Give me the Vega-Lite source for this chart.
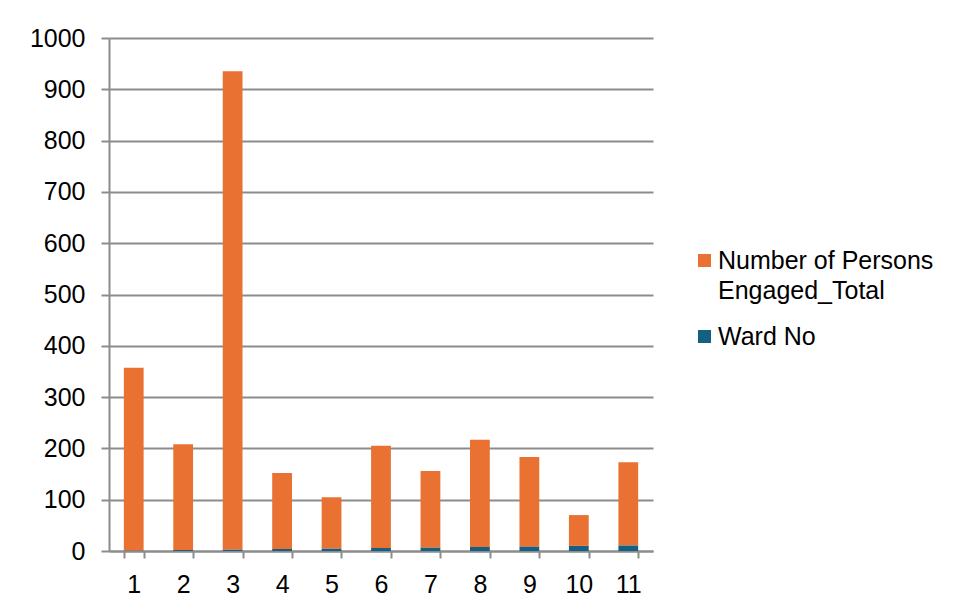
{
  "$schema": "https://vega.github.io/schema/vega-lite/v6.json",
  "autosize": {"type": "none"},
  "padding": {"left": 109, "top": 38, "right": 309, "bottom": 59},
  "width": 544,
  "height": 513,
  "background": "white",
  "data": {
    "values": [
      {"Ward": 1, "Series": "Ward No", "Value": 1},
      {"Ward": 1, "Series": "Number of Persons Engaged_Total", "Value": 356},
      {"Ward": 2, "Series": "Ward No", "Value": 2},
      {"Ward": 2, "Series": "Number of Persons Engaged_Total", "Value": 206},
      {"Ward": 3, "Series": "Ward No", "Value": 3},
      {"Ward": 3, "Series": "Number of Persons Engaged_Total", "Value": 932},
      {"Ward": 4, "Series": "Ward No", "Value": 4},
      {"Ward": 4, "Series": "Number of Persons Engaged_Total", "Value": 148},
      {"Ward": 5, "Series": "Ward No", "Value": 5},
      {"Ward": 5, "Series": "Number of Persons Engaged_Total", "Value": 100},
      {"Ward": 6, "Series": "Ward No", "Value": 6},
      {"Ward": 6, "Series": "Number of Persons Engaged_Total", "Value": 199},
      {"Ward": 7, "Series": "Ward No", "Value": 7},
      {"Ward": 7, "Series": "Number of Persons Engaged_Total", "Value": 149},
      {"Ward": 8, "Series": "Ward No", "Value": 8},
      {"Ward": 8, "Series": "Number of Persons Engaged_Total", "Value": 209},
      {"Ward": 9, "Series": "Ward No", "Value": 9},
      {"Ward": 9, "Series": "Number of Persons Engaged_Total", "Value": 174},
      {"Ward": 10, "Series": "Ward No", "Value": 10},
      {"Ward": 10, "Series": "Number of Persons Engaged_Total", "Value": 60},
      {"Ward": 11, "Series": "Ward No", "Value": 11},
      {"Ward": 11, "Series": "Number of Persons Engaged_Total", "Value": 162}
    ]
  },
  "mark": {"type": "bar"},
  "encoding": {
    "x": {
      "field": "Ward",
      "type": "ordinal",
      "title": null,
      "scale": {"paddingInner": 0.6, "paddingOuter": 0.3},
      "axis": {
        "labelAngle": 0,
        "tickBand": "extent",
        "tickSize": 7,
        "tickWidth": 2,
        "tickColor": "#8c8c8c",
        "domainColor": "#8c8c8c",
        "domainWidth": 2,
        "labelPadding": 14,
        "grid": false
      }
    },
    "y": {
      "field": "Value",
      "type": "quantitative",
      "aggregate": "sum",
      "stack": "zero",
      "title": null,
      "scale": {"domain": [0, 1000], "nice": false},
      "axis": {
        "values": [0, 100, 200, 300, 400, 500, 600, 700, 800, 900, 1000],
        "format": "d",
        "tickSize": 8,
        "tickWidth": 2,
        "tickColor": "#8c8c8c",
        "domainColor": "#8c8c8c",
        "domainWidth": 2,
        "gridColor": "#8c8c8c",
        "gridWidth": 2,
        "labelPadding": 16
      }
    },
    "color": {
      "field": "Series",
      "type": "nominal",
      "scale": {
        "domain": ["Number of Persons Engaged_Total", "Ward No"],
        "range": ["#E97132", "#156082"]
      },
      "legend": {
        "title": null,
        "orient": "none",
        "legendX": 583,
        "legendY": 210,
        "symbolType": "square",
        "symbolSize": 169,
        "symbolStrokeWidth": 0,
        "labelFontSize": 25,
        "labelFont": "Liberation Sans",
        "labelColor": "black",
        "labelOffset": 1,
        "rowPadding": 20,
        "labelLimit": 400,
        "labelExpr": "datum.label == 'Number of Persons Engaged_Total' ? ['Number of Persons', 'Engaged_Total'] : datum.label"
      }
    },
    "order": {"field": "Series", "sort": "descending"}
  },
  "config": {
    "view": {"stroke": null},
    "font": "Liberation Sans",
    "style": {"guide-label": {"lineHeight": 30}},
    "axis": {
      "labelFont": "Liberation Sans",
      "labelFontSize": 25,
      "labelColor": "black"
    }
  }
}
